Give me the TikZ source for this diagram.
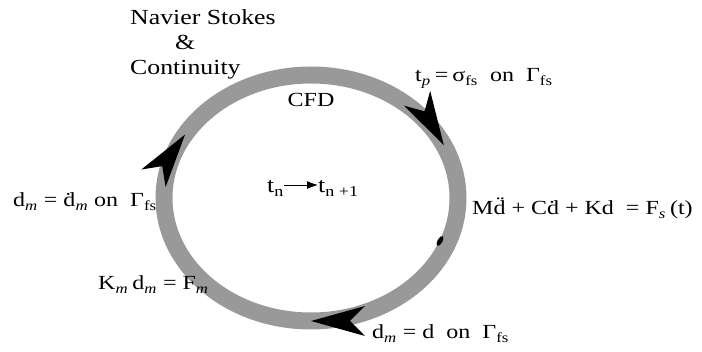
\documentclass[tikz,border=0pt]{standalone}
\usepackage{fontspec}
\setmainfont{Liberation Serif}
\usetikzlibrary{arrows.meta, decorations.markings}
\newcommand{\lo}[1]{\textsubscript{#1}}

\begin{document}
\begin{tikzpicture}[x=1pt,y=-1pt,
  lbl/.style={font=\fontsize{20}{24}\selectfont, xscale=1.2, inner sep=0pt, anchor=base west},
  biglbl/.style={lbl, font=\fontsize{21.5}{26}\selectfont},
  ring/.style={line width=17pt, black!40},
  cyc/.tip={Stealth[length=54pt, width=30pt, inset=15pt, line width=0pt, color=black]}]
\useasboundingbox (0,0) rectangle (702,352);
\draw[ring, postaction={decorate}, decoration={markings,
  mark=at position 0.25 with {\arrow{cyc}},
  mark=at position 0.58 with {\arrow{cyc}},
  mark=at position 0.935 with {\arrow{cyc}}}]
  (311,198) ellipse [x radius=147, y radius=123];
\fill[black, rotate around={-30:(440,241)}] (440,241) ellipse [x radius=2.5, y radius=5.5];
\node[biglbl] (nav) at (130,25) {Navier Stokes};
\node[biglbl] (amp) at (175,50) {\&};
\node[biglbl] (cont) at (130,75) {Continuity};
\node[lbl, anchor=base] (cfd) at (311,107) {CFD};
\node[lbl] (tp) at (415,82) {t\lo{\textit{p}}\,=\,σ\lo{fs}\enspace on\enspace Γ\lo{fs}};
\node[biglbl] (tn) at (267,193) {t\lo{n}};
\node[biglbl] (tnn) at (318,193) {t\lo{n +1}};
\draw[line width=0.9pt, -{Latex[length=11pt, width=8pt]}] ([yshift=8pt]tn.base east) -- ([yshift=8pt]tnn.base west);
\node[lbl] (dm) at (13,207) {d\lo{\textit{m}} = \.{d}\lo{\textit{m}} on\enspace Γ\lo{fs}};
\node[lbl] (eqm) at (472,215) {M\"{d} + C\.{d} + Kd\enspace = F\lo{\textit{s}}\,(t)};
\node[lbl] (km) at (98,290) {K\lo{\textit{m}}\,d\lo{\textit{m}} = F\lo{\textit{m}}};
\node[lbl] (dd) at (372,339) {d\lo{\textit{m}} = d\enspace on\enspace Γ\lo{fs}};
\end{tikzpicture}
\end{document}
